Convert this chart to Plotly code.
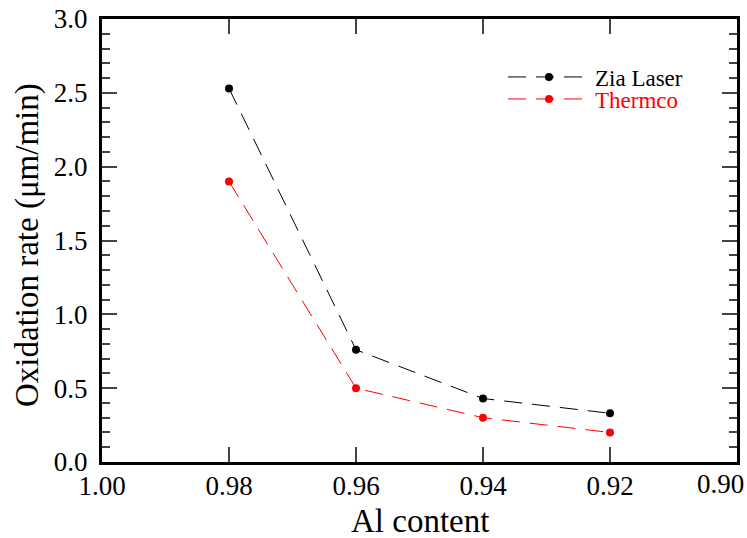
import plotly.graph_objects as go

al_content = [0.98, 0.96, 0.94, 0.92]
zia_laser = [2.53, 0.76, 0.43, 0.33]
thermco = [1.90, 0.50, 0.30, 0.20]
x_ticks = [1.00, 0.98, 0.96, 0.94, 0.92]
x_ticktext = ["1.00", "0.98", "0.96", "0.94", "0.92"]
y_ticks = [0, 0.5, 1.0, 1.5, 2.0, 2.5, 3.0]
y_ticktext = ["0.0", "0.5", "1.0", "1.5", "2.0", "2.5", "3.0"]

W, H = 747, 538
L, R, T, B = 102, 10, 19, 76
pw, ph = W - L - R, H - T - B

FONT = "Times New Roman, Liberation Serif, serif"

fig = go.Figure()
fig.add_trace(go.Scatter(
    x=al_content, y=zia_laser, name="Zia Laser", mode="lines+markers",
    line=dict(color="black", width=1, dash="18px,10px"),
    marker=dict(color="black", size=8), legend="legend2",
))
fig.add_trace(go.Scatter(
    x=al_content, y=thermco, name="Thermco", mode="lines+markers",
    line=dict(color="red", width=1, dash="18px,10px"),
    marker=dict(color="red", size=8), legend="legend3",
))

leg_common = dict(xanchor="left", yanchor="middle", bgcolor="rgba(0,0,0,0)",
                  itemwidth=82)
fig.update_layout(
    template="simple_white",
    width=W, height=H,
    margin=dict(l=L, r=R, t=T, b=B, autoexpand=False),
    plot_bgcolor="white", paper_bgcolor="white",
    font=dict(family=FONT, color="black"),
    showlegend=True,
    legend2=dict(x=(503 - L) / pw, y=(H - B - 77) / ph,
                 font=dict(family=FONT, size=23, color="#010101"), **leg_common),
    legend3=dict(x=(503 - L) / pw, y=(H - B - 99) / ph,
                 font=dict(family=FONT, size=23, color="red"), **leg_common),
    xaxis=dict(
        range=[1.00, 0.90], tickmode="array", automargin=False,
        tickvals=x_ticks, ticktext=x_ticktext,
        ticks="inside", ticklen=15, tickwidth=1.5, tickcolor="#444",
        showline=True, linewidth=3, linecolor="black", mirror="ticks",
        showgrid=False, zeroline=False,
        tickfont=dict(size=27, family=FONT),
        ticklabelstandoff=-2,
    ),
    yaxis=dict(
        range=[0, 3.0], tickmode="array", automargin=False,
        tickvals=y_ticks, ticktext=y_ticktext,
        ticks="inside", ticklen=15, tickwidth=1.5, tickcolor="#444",
        minor=dict(dtick=0.1, ticks="inside", ticklen=8, tickwidth=1.5, tickcolor="#444"),
        showline=True, linewidth=3, linecolor="black", mirror="ticks",
        showgrid=False, zeroline=False,
        tickfont=dict(size=27, family=FONT),
        ticklabelstandoff=6,
    ),
    annotations=[
        dict(text="Oxidation rate (μm/min)", textangle=-90,
             x=(28 - L) / pw, y=(H - B - 245) / ph, xref="paper", yref="paper",
             xanchor="center", yanchor="middle", showarrow=False,
             font=dict(size=33, family=FONT)),
        dict(text="Al content",
             x=(420 - L) / pw, y=(H - B - 521) / ph, xref="paper", yref="paper",
             xanchor="center", yanchor="middle", showarrow=False,
             font=dict(size=33, family=FONT)),
        dict(text="0.90",
             x=(720 - L) / pw, y=(H - B - 484) / ph, xref="paper", yref="paper",
             xanchor="center", yanchor="middle", showarrow=False,
             font=dict(size=27, family=FONT)),
    ],
)

fig.write_html(
    "out.html",
    config={"displayModeBar": False},
    post_script="document.body.style.margin='0';document.body.style.overflow='hidden';",
)
